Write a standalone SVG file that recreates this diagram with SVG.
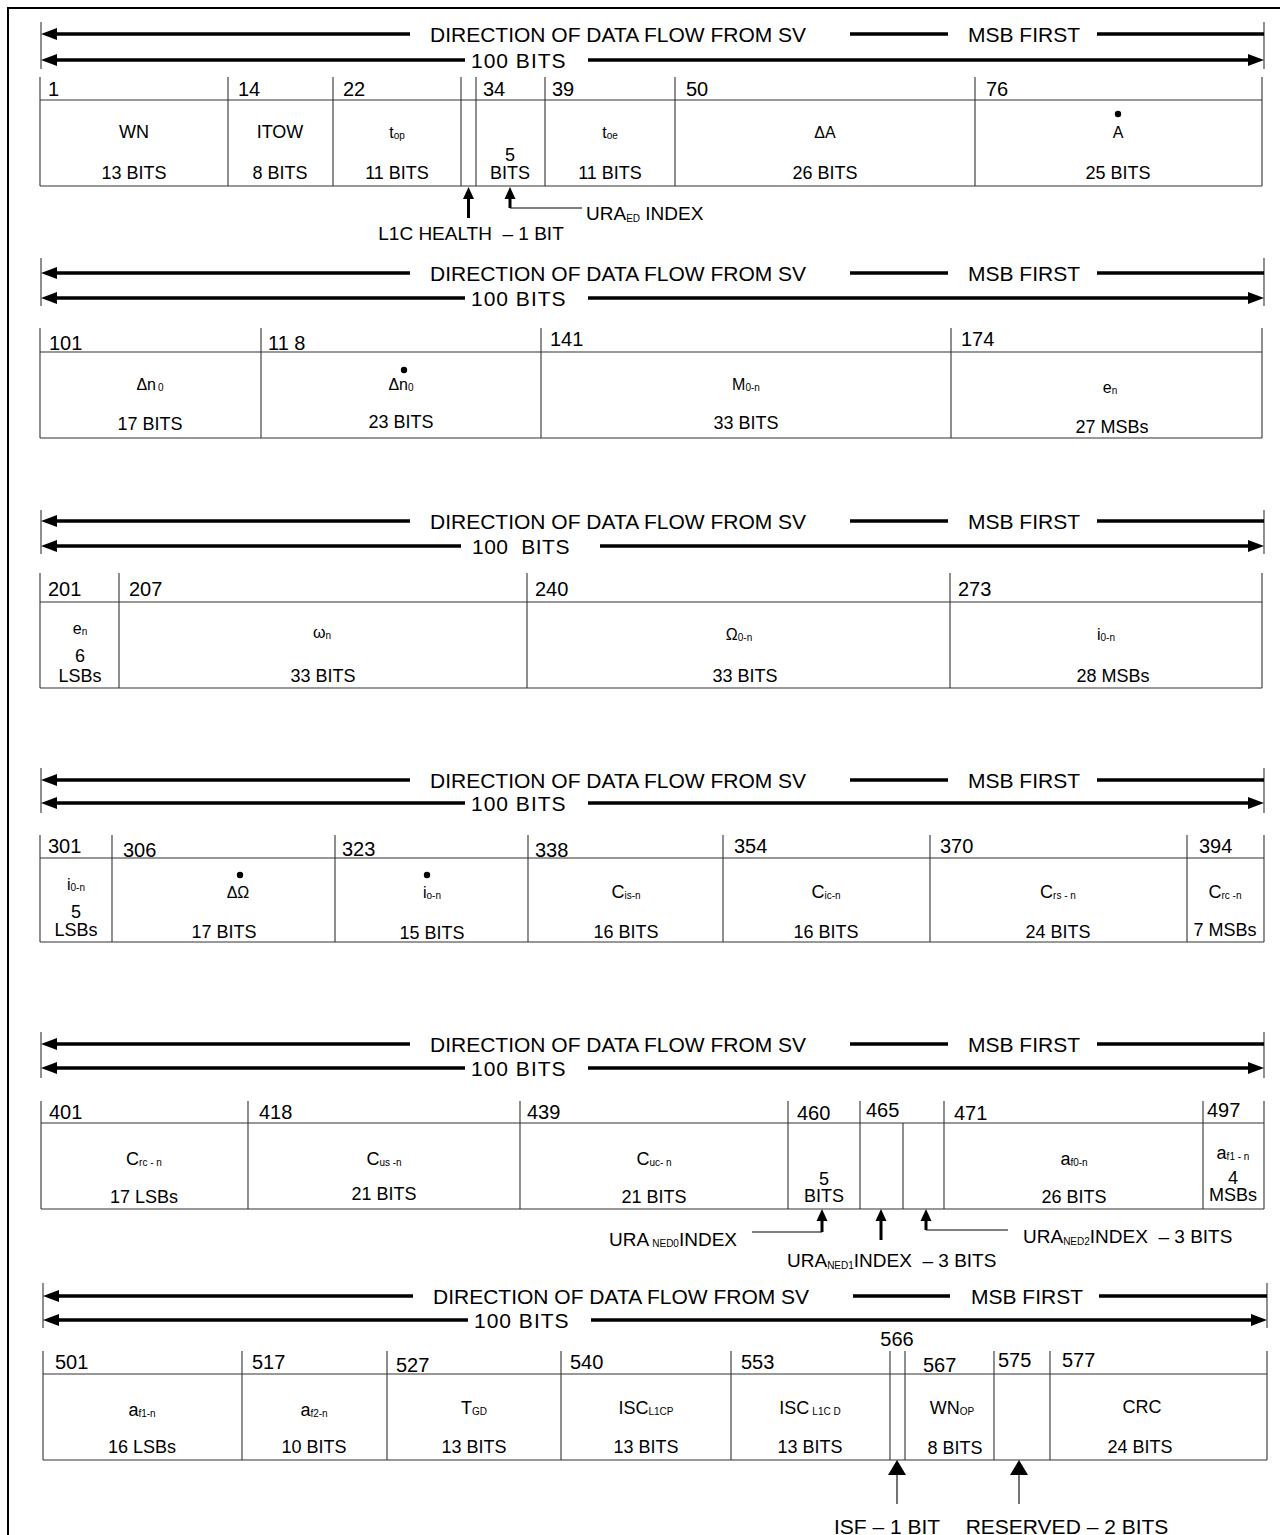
<svg xmlns="http://www.w3.org/2000/svg" width="1280" height="1535" viewBox="0 0 1280 1535">
<style>
text{font-family:"Liberation Sans",Arial,sans-serif;fill:#000}
.h{font-size:21px}
.n{font-size:20px}
.l{font-size:18px;text-anchor:middle}
.v{font-size:16px;text-anchor:middle}
.a{font-size:19px}
.s{font-size:10px}
.grid{fill:none;stroke:#333;stroke-width:1.1}
.tick{stroke:#333;stroke-width:1.1}
.bar{stroke:#000;stroke-width:3.5;fill:none}
.thin{stroke:#000;stroke-width:1.1;fill:none}
.shaft{stroke:#000;stroke-width:3;fill:none}
.la{marker-start:url(#mh)}
.ra{marker-end:url(#mh)}
.ua{marker-end:url(#ms)}
.ub{marker-end:url(#mb)}
</style>
<defs>
<marker id="mh" markerUnits="userSpaceOnUse" markerWidth="16" markerHeight="12" refX="0" refY="6" orient="auto-start-reverse" overflow="visible"><path d="M0,0 L16,6 L0,12 z" fill="#000"/></marker>
<marker id="ms" markerUnits="userSpaceOnUse" markerWidth="12" markerHeight="11" refX="0" refY="5.5" orient="auto" overflow="visible"><path d="M0,0 L12,5.5 L0,11 z" fill="#000"/></marker>
<marker id="mb" markerUnits="userSpaceOnUse" markerWidth="15" markerHeight="18" refX="0" refY="9" orient="auto" overflow="visible"><path d="M0,0 L15,9 L0,18 z" fill="#000"/></marker>
</defs>
<rect width="1280" height="1535" fill="#fff"/>
<rect x="8" y="8" width="1300" height="1600" fill="none" stroke="#000" stroke-width="2"/>

<!-- ===== Section 1 ===== -->
<g id="sec1">
<path class="tick" d="M41,22V69M1264,22V69"/>
<text class="h" x="430" y="41.5">DIRECTION OF DATA FLOW FROM SV</text>
<text class="h" x="968" y="41.5">MSB FIRST</text>
<text class="h" x="471" y="67.5" letter-spacing="1">100 BITS</text>
<path class="grid" d="M40,100H1262M40,186H1262M40,77V186M228,77V186M333,77V186M461,77V186M476,77V186M545,77V186M675,77V186M975,77V186M1262,77V186"/>
<g id="f-wn"><text class="n" x="48" y="96">1</text><text class="l" x="134" y="138">WN</text><text class="l" x="134" y="179">13 BITS</text></g>
<g id="f-itow"><text class="n" x="238" y="96">14</text><text class="l" x="280" y="138">ITOW</text><text class="l" x="280" y="179">8 BITS</text></g>
<g id="f-top"><text class="n" x="343" y="96">22</text><text class="v" x="397" y="138">t<tspan class="s" dy="1">op</tspan></text><text class="l" x="397" y="179">11 BITS</text></g>
<g id="f-health"></g>
<g id="f-uraed"><text class="n" x="483" y="96">34</text><text class="l" x="510" y="161">5</text><text class="l" x="510" y="179">BITS</text></g>
<g id="f-toe"><text class="n" x="552" y="96">39</text><text class="v" x="610" y="138">t<tspan class="s" dy="1">oe</tspan></text><text class="l" x="610" y="179">11 BITS</text></g>
<g id="f-da"><text class="n" x="686" y="96">50</text><text class="v" x="825" y="138">ΔA</text><text class="l" x="825" y="179">26 BITS</text></g>
<g id="f-adot"><text class="n" x="986" y="96">76</text><circle cx="1118" cy="114" r="3.2" fill="#000"/><text class="v" x="1118" y="138">A</text><text class="l" x="1118" y="179">25 BITS</text></g>
<text class="a" x="586" y="220">URA<tspan class="s" dy="2">ED</tspan><tspan dy="-2"> INDEX</tspan></text>
<text class="a" x="471" y="240" text-anchor="middle" xml:space="preserve">L1C HEALTH  – 1 BIT</text>
</g>

<!-- ===== Section 2 ===== -->
<g id="sec2">
<path class="tick" d="M41,258V306M1264,258V306"/>
<text class="h" x="430" y="280.5">DIRECTION OF DATA FLOW FROM SV</text>
<text class="h" x="968" y="280.5">MSB FIRST</text>
<text class="h" x="471" y="305.5" letter-spacing="1">100 BITS</text>
<path class="grid" d="M40,352H1262M40,438H1262M40,328V438M261,328V438M541,328V438M951,328V438M1262,328V438"/>
<g id="f-dn"><text class="n" x="49" y="350">101</text><text class="v" x="150" y="390">Δn<tspan class="s" dx="2" dy="1">0</tspan></text><text class="l" x="150" y="430">17 BITS</text></g>
<g id="f-dndot"><text class="n" x="268" y="350">11 8</text><circle cx="404" cy="370" r="3.2" fill="#000"/><text class="v" x="401" y="390">Δn<tspan class="s" dy="1">0</tspan></text><text class="l" x="401" y="428">23 BITS</text></g>
<g id="f-m0"><text class="n" x="550" y="346">141</text><text class="v" x="746" y="390">M<tspan class="s" dy="1">0-n</tspan></text><text class="l" x="746" y="429">33 BITS</text></g>
<g id="f-en1"><text class="n" x="961" y="346">174</text><text class="v" x="1110" y="393">e<tspan class="s" dy="1">n</tspan></text><text class="l" x="1112" y="433">27 MSBs</text></g>
</g>

<!-- ===== Section 3 ===== -->
<g id="sec3">
<path class="tick" d="M41,510V554M1264,510V554"/>
<text class="h" x="430" y="528.5">DIRECTION OF DATA FLOW FROM SV</text>
<text class="h" x="968" y="528.5">MSB FIRST</text>
<text class="h" x="472" y="553.5" xml:space="preserve" letter-spacing="0.5">100  BITS</text>
<path class="grid" d="M40,602H1262M40,688H1262M40,573V688M119,573V688M527,573V688M950,573V688M1262,573V688"/>
<g id="f-en2"><text class="n" x="48" y="596">201</text><text class="v" x="80" y="634">e<tspan class="s" dy="1">n</tspan></text><text class="l" x="80" y="662">6</text><text class="l" x="80" y="682">LSBs</text></g>
<g id="f-w"><text class="n" x="129" y="596">207</text><text class="v" x="322" y="638">ω<tspan class="s" dy="1">n</tspan></text><text class="l" x="323" y="682">33 BITS</text></g>
<g id="f-om"><text class="n" x="535" y="596">240</text><text class="v" x="739" y="640">Ω<tspan class="s" dy="1">0-n</tspan></text><text class="l" x="745" y="682">33 BITS</text></g>
<g id="f-i0"><text class="n" x="958" y="596">273</text><text class="v" x="1106" y="640">i<tspan class="s" dy="1">0-n</tspan></text><text class="l" x="1113" y="682">28 MSBs</text></g>
</g>

<!-- ===== Section 4 ===== -->
<g id="sec4">
<path class="tick" d="M41,768V813M1264,768V813"/>
<text class="h" x="430" y="787.5">DIRECTION OF DATA FLOW FROM SV</text>
<text class="h" x="968" y="787.5">MSB FIRST</text>
<text class="h" x="471" y="810.5" letter-spacing="1">100 BITS</text>
<path class="grid" d="M40,858H1264M40,942H1264M40,835V942M112,835V942M335,835V942M528,835V942M723,835V942M930,835V942M1187,835V942M1264,835V942"/>
<g id="f-i0b"><text class="n" x="48" y="853">301</text><text class="v" x="76" y="890">i<tspan class="s" dy="1">0-n</tspan></text><text class="l" x="76" y="918">5</text><text class="l" x="76" y="936">LSBs</text></g>
<g id="f-domdot"><text class="n" x="123" y="857">306</text><circle cx="240" cy="875" r="3.2" fill="#000"/><text class="v" x="238" y="898">ΔΩ</text><text class="l" x="224" y="938">17 BITS</text></g>
<g id="f-idot"><text class="n" x="342" y="856">323</text><circle cx="427" cy="875" r="3.2" fill="#000"/><text class="v" x="432" y="898">i<tspan class="s" dy="1">o-n</tspan></text><text class="l" x="432" y="939">15 BITS</text></g>
<g id="f-cis"><text class="n" x="535" y="857">338</text><text class="l" x="626" y="898">C<tspan class="s" dy="1">is-n</tspan></text><text class="l" x="626" y="938">16 BITS</text></g>
<g id="f-cic"><text class="n" x="734" y="853">354</text><text class="l" x="826" y="898">C<tspan class="s" dy="1">ic-n</tspan></text><text class="l" x="826" y="938">16 BITS</text></g>
<g id="f-crs"><text class="n" x="940" y="853">370</text><text class="l" x="1058" y="898">C<tspan class="s" dy="1">rs - n</tspan></text><text class="l" x="1058" y="938">24 BITS</text></g>
<g id="f-crc1"><text class="n" x="1199" y="853">394</text><text class="l" x="1225" y="898">C<tspan class="s" dy="1">rc -n</tspan></text><text class="l" x="1225" y="936">7 MSBs</text></g>
</g>

<!-- ===== Section 5 ===== -->
<g id="sec5">
<path class="tick" d="M41,1032V1078M1264,1032V1078"/>
<text class="h" x="430" y="1051.5">DIRECTION OF DATA FLOW FROM SV</text>
<text class="h" x="968" y="1051.5">MSB FIRST</text>
<text class="h" x="471" y="1075.5" letter-spacing="1">100 BITS</text>
<path class="grid" d="M41,1123H1264M41,1209H1264M41,1101V1209M248,1101V1209M520,1101V1209M788,1101V1209M860,1101V1209M903,1123V1209M944,1101V1209M1203,1101V1209M1264,1101V1209"/>
<g id="f-crc2"><text class="n" x="49" y="1119">401</text><text class="l" x="144" y="1165">C<tspan class="s" dy="1">rc - n</tspan></text><text class="l" x="144" y="1203">17 LSBs</text></g>
<g id="f-cus"><text class="n" x="259" y="1119">418</text><text class="l" x="384" y="1165">C<tspan class="s" dy="1">us -n</tspan></text><text class="l" x="384" y="1200">21 BITS</text></g>
<g id="f-cuc"><text class="n" x="527" y="1119">439</text><text class="l" x="654" y="1165">C<tspan class="s" dy="1">uc- n</tspan></text><text class="l" x="654" y="1203">21 BITS</text></g>
<g id="f-ned0"><text class="n" x="797" y="1120">460</text><text class="l" x="824" y="1185">5</text><text class="l" x="824" y="1202">BITS</text></g>
<g id="f-ned1"><text class="n" x="866" y="1117">465</text></g>
<g id="f-ned2"></g>
<g id="f-af0"><text class="n" x="954" y="1120">471</text><text class="l" x="1074" y="1165">a<tspan class="s" dy="1">f0-n</tspan></text><text class="l" x="1074" y="1203">26 BITS</text></g>
<g id="f-af1a"><text class="n" x="1207" y="1117">497</text><text class="l" x="1233" y="1159">a<tspan class="s" dy="1">f1 - n</tspan></text><text class="l" x="1233" y="1184">4</text><text class="l" x="1233" y="1201">MSBs</text></g>
<text class="a" x="737" y="1246" text-anchor="end">URA<tspan class="s" dx="3" dy="1">NED0</tspan><tspan dy="-1">INDEX</tspan></text>
<text class="a" x="787" y="1267" xml:space="preserve">URA<tspan class="s" dy="2">NED1</tspan><tspan dy="-2">INDEX  – 3 BITS</tspan></text>
<text class="a" x="1023" y="1243" xml:space="preserve">URA<tspan class="s" dy="2">NED2</tspan><tspan dy="-2">INDEX  – 3 BITS</tspan></text>
</g>

<!-- ===== Section 6 ===== -->
<g id="sec6">
<path class="tick" d="M43,1283V1328M1267,1283V1328"/>
<text class="h" x="433" y="1303.5">DIRECTION OF DATA FLOW FROM SV</text>
<text class="h" x="971" y="1303.5">MSB FIRST</text>
<text class="h" x="474" y="1327.5" letter-spacing="1">100 BITS</text>
<path class="grid" d="M43,1374H1267M43,1460H1267M43,1351V1460M242,1351V1460M387,1351V1460M561,1351V1460M731,1351V1460M890,1351V1460M905,1351V1460M994,1351V1460M1050,1351V1460M1267,1351V1460"/>
<g id="f-af1b"><text class="n" x="55" y="1369">501</text><text class="l" x="142" y="1416">a<tspan class="s" dy="1">f1-n</tspan></text><text class="l" x="142" y="1453">16 LSBs</text></g>
<g id="f-af2"><text class="n" x="252" y="1369">517</text><text class="l" x="314" y="1416">a<tspan class="s" dy="1">f2-n</tspan></text><text class="l" x="314" y="1453">10 BITS</text></g>
<g id="f-tgd"><text class="n" x="396" y="1372">527</text><text class="l" x="474" y="1414">T<tspan class="s" dy="1">GD</tspan></text><text class="l" x="474" y="1453">13 BITS</text></g>
<g id="f-iscp"><text class="n" x="570" y="1369">540</text><text class="l" x="646" y="1414">ISC<tspan class="s" dy="1">L1CP</tspan></text><text class="l" x="646" y="1453">13 BITS</text></g>
<g id="f-iscd"><text class="n" x="741" y="1369">553</text><text class="l" x="810" y="1414">ISC<tspan class="s" dx="3" dy="1">L1C D</tspan></text><text class="l" x="810" y="1453">13 BITS</text></g>
<g id="f-isf"><text class="n" x="897" y="1346" text-anchor="middle">566</text></g>
<g id="f-wnop"><text class="n" x="923" y="1372">567</text><text class="l" x="952" y="1414">WN<tspan class="s" dy="1">OP</tspan></text><text class="l" x="955" y="1454">8 BITS</text></g>
<g id="f-res"><text class="n" x="998" y="1367">575</text></g>
<g id="f-crc"><text class="n" x="1062" y="1367">577</text><text class="l" x="1142" y="1413">CRC</text><text class="l" x="1140" y="1453">24 BITS</text></g>
<text class="a" x="887" y="1534" text-anchor="middle" style="font-size:21px">ISF – 1 BIT</text>
<text class="a" x="1067" y="1534" text-anchor="middle" style="font-size:21px">RESERVED – 2 BITS</text>
</g>

<!-- ===== Connectors ===== -->
<g id="connectors">
<path class="bar la" d="M57,34H410"/><path class="bar" d="M850,34H948M1097,34H1264"/>
<path class="bar la" d="M57,60H465"/><path class="bar ra" d="M588,60H1248"/>
<path class="bar la" d="M57,273H410"/><path class="bar" d="M850,273H948M1097,273H1264"/>
<path class="bar la" d="M57,298H465"/><path class="bar ra" d="M588,298H1248"/>
<path class="bar la" d="M57,521H410"/><path class="bar" d="M850,521H948M1097,521H1264"/>
<path class="bar la" d="M57,546H461"/><path class="bar ra" d="M600,546H1248"/>
<path class="bar la" d="M57,780H410"/><path class="bar" d="M850,780H948M1097,780H1264"/>
<path class="bar la" d="M57,803H465"/><path class="bar ra" d="M588,803H1248"/>
<path class="bar la" d="M57,1044H410"/><path class="bar" d="M850,1044H948M1097,1044H1264"/>
<path class="bar la" d="M57,1068H465"/><path class="bar ra" d="M588,1068H1248"/>
<path class="bar la" d="M59,1296H413"/><path class="bar" d="M853,1296H950M1099,1296H1267"/>
<path class="bar la" d="M59,1320H468"/><path class="bar ra" d="M591,1320H1251"/>
<path class="shaft ua" d="M468.5,218V199"/>
<path class="shaft ua" d="M510,208V199"/><path class="thin" d="M510,208H582"/>
<path class="shaft ua" d="M822,1232V1221"/><path class="thin" d="M752,1232H822"/>
<path class="shaft ua" d="M881,1240V1221"/>
<path class="shaft ua" d="M926,1230V1221"/><path class="thin" d="M926,1230H1008"/>
<path class="thin ub" d="M897,1504V1475"/>
<path class="thin ub" d="M1019,1504V1475"/>
</g>
</svg>
